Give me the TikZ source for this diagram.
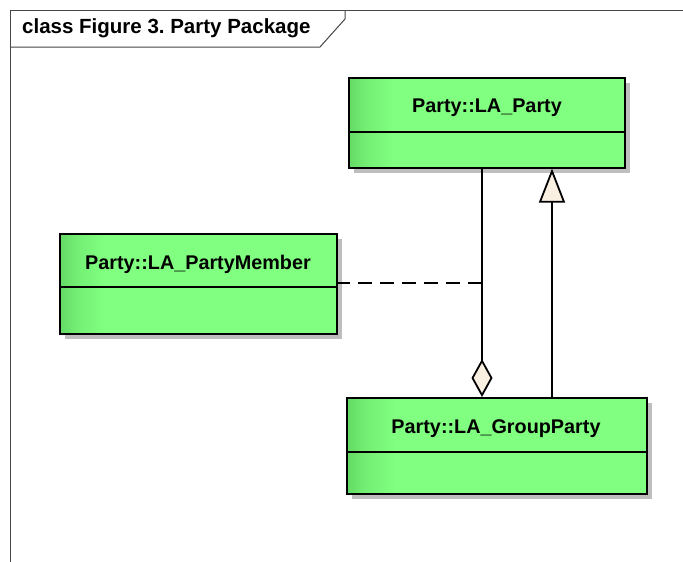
\documentclass[tikz,border=0pt]{standalone}
\usepackage{fontspec}
\setmainfont{Liberation Sans}
\usetikzlibrary{arrows.meta}
\frenchspacing
\definecolor{lgreen}{RGB}{128,255,128}
\definecolor{dgreen}{RGB}{100,218,100}
\definecolor{shadowc}{RGB}{190,190,190}
\definecolor{cream}{RGB}{250,240,225}
\definecolor{framec}{RGB}{70,70,70}
\pgfdeclarehorizontalshading{boxshade}{100bp}{color(0bp)=(dgreen); color(25bp)=(dgreen); color(28bp)=(dgreen!45!lgreen); color(33bp)=(lgreen); color(100bp)=(lgreen)}
\tikzset{
  umlbox/.style={draw=black, line width=1.6pt, shading=boxshade, inner sep=0pt, anchor=north west},
  shadowbox/.style={fill=shadowc},
  divline/.style={draw=black, line width=1.6pt},
  clsname/.style={font=\bfseries\fontsize{19.8}{23}\selectfont, inner sep=0pt},
  conn/.style={draw=black, line width=1.8pt},
  frameline/.style={draw=framec, line width=1pt},
}
\begin{document}
\begin{tikzpicture}[x=1pt,y=-1pt]
\useasboundingbox (0,0) rectangle (683,562);
\fill[white] (0,0) rectangle (683,562);
% frame
\draw[frameline] (10,562) -- (10,10) -- (683,10);
\draw[frameline] (10,47) -- (320,47) -- (345,19) -- (345,10);
\node[font=\bfseries\fontsize{20.5}{24}\selectfont, anchor=west, inner sep=0pt] (title) at (22,28.5) {class Figure 3. Party Package};
% LA_Party
\fill[shadowbox] (354,83) rectangle (630,173);
\node[umlbox, minimum width=276pt, minimum height=90pt] (party) at (348,77) {};
\draw[divline] (348,132) -- (624,132);
\node[clsname] (partyname) at (487,108) {Party::LA\_Party};
% LA_PartyMember
\fill[shadowbox] (65,239) rectangle (342,339);
\node[umlbox, minimum width=277pt, minimum height=100pt] (member) at (59,233) {};
\draw[divline] (59,287) -- (336,287);
\node[clsname] (membername) at (198,264) {Party::LA\_PartyMember};
% LA_GroupParty
\fill[shadowbox] (352,403) rectangle (652,499);
\node[umlbox, minimum width=300pt, minimum height=96pt] (group) at (346,397) {};
\draw[divline] (346,452) -- (646,452);
\node[clsname] (groupname) at (496,429) {Party::LA\_GroupParty};
% connectors
\coordinate (aggx) at (482,0);
\coordinate (genx) at (552,0);
\coordinate (dj) at (482,283);
\draw[conn, -{Diamond[length=38pt,width=21pt,fill=cream]}] (party.south -| aggx) -- (group.north -| aggx);
\draw[conn, -{Triangle[length=34pt,width=26pt,fill=cream]}] (group.north -| genx) -- (party.south -| genx);
\draw[conn, dash pattern=on 14pt off 8pt] (dj) -- (member.east |- dj);
\end{tikzpicture}
\end{document}
